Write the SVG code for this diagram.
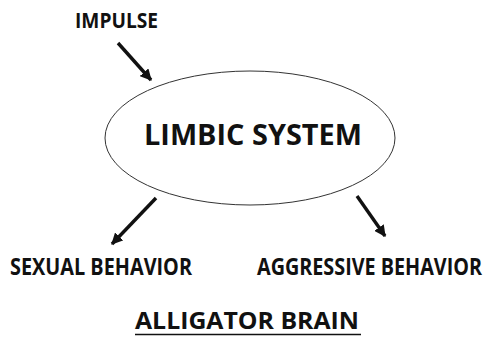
<svg xmlns="http://www.w3.org/2000/svg" width="487" height="339" viewBox="0 0 487 339">
<style>
text{font-family:"Open Sans","DejaVu Sans",sans-serif;font-weight:700;fill:#111}
.c{stroke:#111;stroke-width:3.4;fill:none;marker-end:url(#ah)}
</style>
<defs>
<marker id="ah" viewBox="0 0 10 10" refX="9" refY="5" markerWidth="3.4" markerHeight="3.4" orient="auto" markerUnits="strokeWidth">
<path d="M0,0L10,5L0,10z" fill="#111"/>
</marker>
</defs>
<rect width="487" height="339" fill="#fff"/>
<g id="connectors">
<line class="c" x1="118" y1="43" x2="151" y2="80"/>
<line class="c" x1="156" y1="198" x2="112" y2="244"/>
<line class="c" x1="357" y1="196" x2="385" y2="236"/>
</g>
<g id="impulse"><text x="75" y="28" font-size="21" textLength="83" lengthAdjust="spacingAndGlyphs">IMPULSE</text></g>
<g id="limbic">
<ellipse cx="250" cy="138" rx="145" ry="67" fill="none" stroke="#333" stroke-width="1"/>
<text x="144" y="145" font-size="28" textLength="218" lengthAdjust="spacingAndGlyphs">LIMBIC SYSTEM</text>
</g>
<g id="sexual"><text x="10" y="275" font-size="23" textLength="182" lengthAdjust="spacingAndGlyphs">SEXUAL BEHAVIOR</text></g>
<g id="aggressive"><text transform="translate(257,275) scale(1,1.12)" x="0" y="0" font-size="20" textLength="225" lengthAdjust="spacingAndGlyphs">AGGRESSIVE BEHAVIOR</text></g>
<g id="title">
<text x="135" y="329" font-size="24" textLength="224" lengthAdjust="spacingAndGlyphs">ALLIGATOR BRAIN</text>
<line x1="135" y1="334.5" x2="361" y2="334.5" stroke="#111" stroke-width="1.5"/>
</g>
</svg>
